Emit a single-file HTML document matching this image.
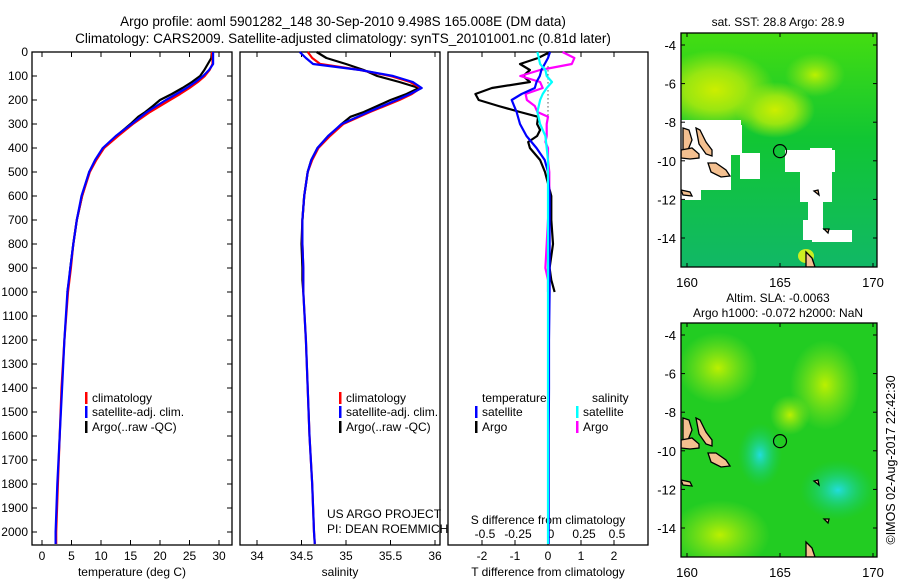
<!DOCTYPE html>
<html><head><meta charset="utf-8"><style>
body{margin:0;background:#fff}
svg text{font-family:"Liberation Sans",sans-serif;font-size:12px;fill:#000}
</style></head><body>
<svg id="c" width="900" height="580" viewBox="0 0 900 580" xmlns="http://www.w3.org/2000/svg">
<defs>
<radialGradient id="yg1" cx="0.5" cy="0.5" r="0.5"><stop offset="0" stop-color="#ccee00"/><stop offset="0.5" stop-color="#99e611"/><stop offset="1" stop-color="#99e611" stop-opacity="0"/></radialGradient>
<radialGradient id="yg2" cx="0.5" cy="0.5" r="0.5"><stop offset="0" stop-color="#bbf000"/><stop offset="1" stop-color="#99e620" stop-opacity="0"/></radialGradient>
<radialGradient id="cy" cx="0.5" cy="0.5" r="0.5"><stop offset="0" stop-color="#22dddd"/><stop offset="1" stop-color="#11cc66" stop-opacity="0"/></radialGradient>
<linearGradient id="sstv" x1="0" y1="0" x2="0" y2="1"><stop offset="0" stop-color="#44dd11"/><stop offset="0.45" stop-color="#11c633"/><stop offset="1" stop-color="#11b866"/></linearGradient>
</defs>
<g id="g"></g>
</svg>
<script>
// ---- data ----
var depths = [0,25,50,75,100,125,150,175,200,250,300,350,400,450,500,600,700,800,900,1000,1200,1400,1600,1800,2000,2050];
var tempClim = [28.8,28.9,28.9,28.4,27.6,26.4,25.0,23.4,21.7,18.3,15.4,12.9,10.5,9.2,8.1,6.8,5.9,5.3,4.9,4.4,3.8,3.3,3.0,2.7,2.4,2.4];
var tempSat  = [29.0,29.0,29.0,28.3,27.3,26.0,24.5,22.8,21.0,17.8,15.2,12.5,10.3,9.0,8.0,6.7,5.9,5.3,4.8,4.3,3.8,3.4,3.0,2.6,2.3,2.3];
var depthsArgo = [0,25,50,75,100,125,150,175,200,225,250,270,300,325,350,375,400,450,500,600,700,800,900,950,1000];
var tempArgo = [28.8,28.7,28.1,27.5,26.8,25.4,23.8,22.0,20.0,18.8,17.5,16.3,15.0,13.8,12.6,11.6,10.5,9.1,8.0,6.8,5.9,5.3,4.8,4.6,4.3];
var salClim = [34.57,34.62,34.71,35.16,35.50,35.72,35.84,35.74,35.60,35.27,34.97,34.82,34.69,34.62,34.57,34.53,34.51,34.51,34.52,34.52,34.55,34.57,34.59,34.62,34.64,34.65];
var salSat  = [34.48,34.55,34.63,35.16,35.53,35.75,35.85,35.72,35.57,35.25,34.95,34.80,34.68,34.61,34.57,34.53,34.51,34.51,34.52,34.52,34.55,34.57,34.59,34.62,34.64,34.65];
var salArgo = [34.67,34.78,35.00,35.20,35.35,35.60,35.82,35.68,35.50,35.35,35.20,35.05,34.95,34.88,34.80,34.74,34.68,34.61,34.57,34.53,34.51,34.50,34.51,34.51,34.52];
var dTsat = [0.06,0.0,-0.1,-0.2,-0.25,-0.35,-0.4,-0.8,-1.1,-0.95,-0.85,-0.65,-0.35,-0.1,0.0,0.05,0.05,0.05,0.05,0.05,0.03,0.03,0.02,0.02,0.02,0.02];
var dTargo = [0.06,-0.3,-0.85,-0.55,-0.75,-0.55,-1.7,-2.2,-2.1,-1.5,-0.85,-0.3,-0.33,-0.24,-0.33,-0.6,-0.55,-0.24,-0.09,0.1,0.1,0.15,0.05,0.1,0.2];
var dSsat = [-0.08,-0.07,-0.06,-0.02,-0.01,0.03,-0.01,-0.04,-0.06,-0.08,-0.06,-0.02,-0.01,0.0,0.0,0.0,0.0,0.0,0.0,0.0,0.0,0.0,0.0,0.0,0.0,0.0];
var dSargo = [0.11,0.2,0.18,-0.06,-0.21,-0.06,-0.04,-0.17,-0.16,-0.1,-0.08,0.0,-0.01,-0.01,-0.01,-0.02,0.0,0.0,0.01,0.01,0.0,-0.01,-0.02,0.0,0.0];
var depthTicks = [0,100,200,300,400,500,600,700,800,900,1000,1100,1200,1300,1400,1500,1600,1700,1800,1900,2000];
var tempTicks = [0,5,10,15,20,25,30];
var salTicks = [34,34.5,35,35.5,36];
var salTickLabels = ["34","34.5","35","35.5","36"];
var dTTicks = [-2,-1,0,1,2];
var dSTicks = [-0.5,-0.25,0,0.25,0.5];
var latTicks = [-4,-6,-8,-10,-12,-14];
var lonTicks = [160,165,170];

// ---- axes ----
function yD(d){return 52+0.24*d;}
function xT(t){return 42+5.9*t;}
function xS(s){return 257+89*(s-34);}
function xdT(v){return 548+33*v;}
function xdS(v){return 548+132*v;}
function mLon(l){return 687+18.6*(l-160);}
function mLat(l,off){return off+45+19.3*(-4-l);}

var NS="http://www.w3.org/2000/svg", G=document.getElementById('g');
function el(tag,attrs,parent){var e=document.createElementNS(NS,tag);for(var k in attrs)e.setAttribute(k,attrs[k]);(parent||G).appendChild(e);return e;}
function txt(x,y,s,anchor,parent,size){var t=el('text',{x:x,y:y,'text-anchor':anchor||'start'},parent);if(size)t.style.fontSize=size+'px';t.textContent=s;return t;}
function line(xs,ds,fx,color,name){
  var p='';for(var i=0;i<xs.length;i++){p+=(i?'L':'M')+fx(xs[i]).toFixed(1)+','+yD(ds[i]).toFixed(1);}
  var e=el('path',{d:p,fill:'none',stroke:color,'stroke-width':2.2,'stroke-linejoin':'round'});
  
  
}

var t1=txt(343,26,"Argo profile: aoml 5901282_148 30-Sep-2010 9.498S 165.008E (DM data)",'middle',null,13.5);


var t2=txt(343,43,"Climatology: CARS2009. Satellite-adjusted climatology: synTS_20101001.nc (0.81d later)",'middle',null,13.5);



var panels=[[32,'temperature-panel'],[240,'salinity-panel'],[448,'difference-panel']];
panels.forEach(function(p){
  var r=el('rect',{x:p[0],y:52,width:200,height:493,fill:'none',stroke:'#000','stroke-width':1.3});
  
  
});
depthTicks.forEach(function(d){
  var y=yD(d);
  el('line',{x1:32,y1:y,x2:37,y2:y,stroke:'#000'});
  el('line',{x1:227,y1:y,x2:232,y2:y,stroke:'#000'});
  var t=txt(28,y+4,String(d),'end');
  
  
});
function xticks(vals,fx,labels,ly){
  vals.forEach(function(v,i){
    var x=fx(v);
    el('line',{x1:x,y1:52,x2:x,y2:57,stroke:'#000'});
    el('line',{x1:x,y1:540,x2:x,y2:545,stroke:'#000'});
    var t=txt(x,ly,labels?labels[i]:String(v),'middle');
    
    
  });
}
xticks(tempTicks,xT,null,560);
xticks(salTicks,xS,salTickLabels,560);
xticks(dTTicks,xdT,null,560);
dSTicks.forEach(function(v){var t=txt(xdS(v)+3,538,String(v),'middle');
  
  });
var at=[[132,'temperature (deg C)','temperature-axis-title'],[340,'salinity','salinity-axis-title'],[548,'T difference from climatology','t-diff-axis-title']];
at.forEach(function(a){var t=txt(a[0],576,a[1],'middle');
  
  });
var sd=txt(548,524,'S difference from climatology','middle');



el('line',{x1:548,y1:yD(60),x2:548,y2:yD(280),stroke:'#000','stroke-dasharray':'1,3'});

line(tempArgo,depthsArgo,xT,'#000','temp-argo-line');
line(tempClim,depths,xT,'#f00','temp-climatology-line');
line(tempSat,depths,xT,'#00f','temp-satellite-line');
line(salArgo,depthsArgo,xS,'#000','sal-argo-line');
line(salClim,depths,xS,'#f00','sal-climatology-line');
line(salSat,depths,xS,'#00f','sal-satellite-line');
line(dTargo,depthsArgo,xdT,'#000','tdiff-argo-line');
line(dSargo,depthsArgo,xdS,'#f0f','sdiff-argo-line');
line(dTsat,depths,xdT,'#00f','tdiff-satellite-line');
line(dSsat,depths,xdS,'#0ff','sdiff-satellite-line');

function leg(x,y,color,label,name){
  el('rect',{x:x,y:y-10,width:2.5,height:12,fill:color});
  var t=txt(x+7,y,label,'start');
  
  
}
leg(85,402,'#f00','climatology','legend-climatology');
leg(85,416,'#00f','satellite-adj. clim.','legend-satellite-adj');
leg(85,431,'#000','Argo(..raw -QC)','legend-argo');
leg(339,402,'#f00','climatology','legend2-climatology');
leg(339,416,'#00f','satellite-adj. clim.','legend2-satellite-adj');
leg(339,431,'#000','Argo(..raw -QC)','legend2-argo');
var lt=txt(482,402,'temperature','start');
var ls=txt(592,402,'salinity','start');
leg(475,416,'#00f','satellite','legend-t-satellite');
leg(475,431,'#000','Argo','legend-t-argo');
leg(576,416,'#0ff','satellite','legend-s-satellite');
leg(576,431,'#f0f','Argo','legend-s-argo');
var u1=txt(327,518,'US ARGO PROJECT','start');
var u2=txt(327,533,'PI: DEAN ROEMMICH','start');

function land(g,off){
  var polys=[
   "683,128 689,130 692,140 688,150 683,150",
   "696,128 700,130 706,142 712,150 712,156 706,154 699,144",
   "681,150 692,148 699,154 699,158 690,159 681,158",
   "708,163 716,163 726,170 730,176 721,177 711,172",
   "681,190 690,192 692,196 683,195",
   "806,252 812,258 815,267 806,267",
   "824,229 829,229 828,233",
   "814,191 818,190 819,195"
  ];
  polys.forEach(function(p){
    var pts=p.split(' ').map(function(s){var a=s.split(',');return a[0]+','+(parseFloat(a[1])+off);}).join(' ');
    el('polygon',{points:pts,fill:'#f4c090',stroke:'#000','stroke-width':1.3},g);
  });
}
function mapFrame(off,kind){
  var g=el('g',{});
  
  
  var cp=el('clipPath',{id:'cp'+off},g);
  el('rect',{x:681,y:33+off,width:196,height:234},cp);
  var inner=el('g',{'clip-path':'url(#cp'+off+')'},g);
  if(kind==='sst'){
    el('rect',{x:681,y:33+off,width:196,height:234,fill:'url(#sstv)'},inner);
    el('ellipse',{cx:715,cy:90+off,rx:60,ry:40,fill:'url(#yg1)'},inner);
    el('ellipse',{cx:775,cy:110+off,rx:40,ry:28,fill:'url(#yg1)'},inner);
    el('ellipse',{cx:815,cy:75+off,rx:30,ry:22,fill:'url(#yg2)'},inner);
    var w=[[681,120,60,10],[681,130,50,60],[730,125,12,30],[740,153,20,26],[681,190,20,10],[785,150,50,22],[810,148,22,10],[800,172,32,30],[808,200,15,20],[803,220,20,20],[812,230,40,12]];
    w.forEach(function(r){el('rect',{x:r[0],y:r[1]+off,width:r[2],height:r[3],fill:'#fff'},inner);});
    el('ellipse',{cx:806,cy:256+off,rx:8,ry:7,fill:'#ccee22'},inner);
  } else {
    el('rect',{x:681,y:33+off,width:196,height:234,fill:'#22cc22'},inner);
    el('ellipse',{cx:718,cy:78+off,rx:40,ry:36,fill:'url(#yg2)'},inner);
    el('ellipse',{cx:825,cy:95+off,rx:35,ry:45,fill:'url(#yg2)'},inner);
    el('ellipse',{cx:790,cy:125+off,rx:20,ry:20,fill:'url(#yg2)'},inner);
    el('ellipse',{cx:720,cy:245+off,rx:50,ry:35,fill:'url(#yg2)'},inner);
    el('ellipse',{cx:760,cy:165+off,rx:22,ry:32,fill:'url(#cy)'},inner);
    el('ellipse',{cx:838,cy:200+off,rx:38,ry:30,fill:'url(#cy)'},inner);
  }
  land(inner,off);
  el('rect',{x:681,y:33+off,width:196,height:234,fill:'none',stroke:'#000','stroke-width':1.3},g);
  el('circle',{cx:mLon(165),cy:mLat(-9.5,off),r:6.5,fill:'none',stroke:'#000','stroke-width':1.2},g);
  latTicks.forEach(function(l){
    var y=mLat(l,off);
    el('line',{x1:681,y1:y,x2:685,y2:y,stroke:'#000'},g);
    el('line',{x1:873,y1:y,x2:877,y2:y,stroke:'#000'},g);
    var t=txt(676,y+5,String(l),'end',g,13);
    
    
  });
  lonTicks.forEach(function(l){
    var x=mLon(l);
    el('line',{x1:x,y1:33+off,x2:x,y2:37+off,stroke:'#000'},g);
    el('line',{x1:x,y1:263+off,x2:x,y2:267+off,stroke:'#000'},g);
    var t=txt(x,287+off,String(l),'middle',g,13);
    
    
  });
}
mapFrame(0,'sst');
mapFrame(290,'sla');
var m1=txt(778,26,'sat. SST: 28.8 Argo: 28.9','middle');
var m2=txt(778,302,'Altim. SLA: -0.0063','middle');
var m3=txt(778,317,'Argo h1000: -0.072 h2000: NaN','middle');
var cr=txt(0,0,'\u00a9IMOS 02-Aug-2017 22:42:30','middle',null,12.5);
cr.setAttribute('transform','translate(895,460) rotate(-90)');


</script>
</body></html>
